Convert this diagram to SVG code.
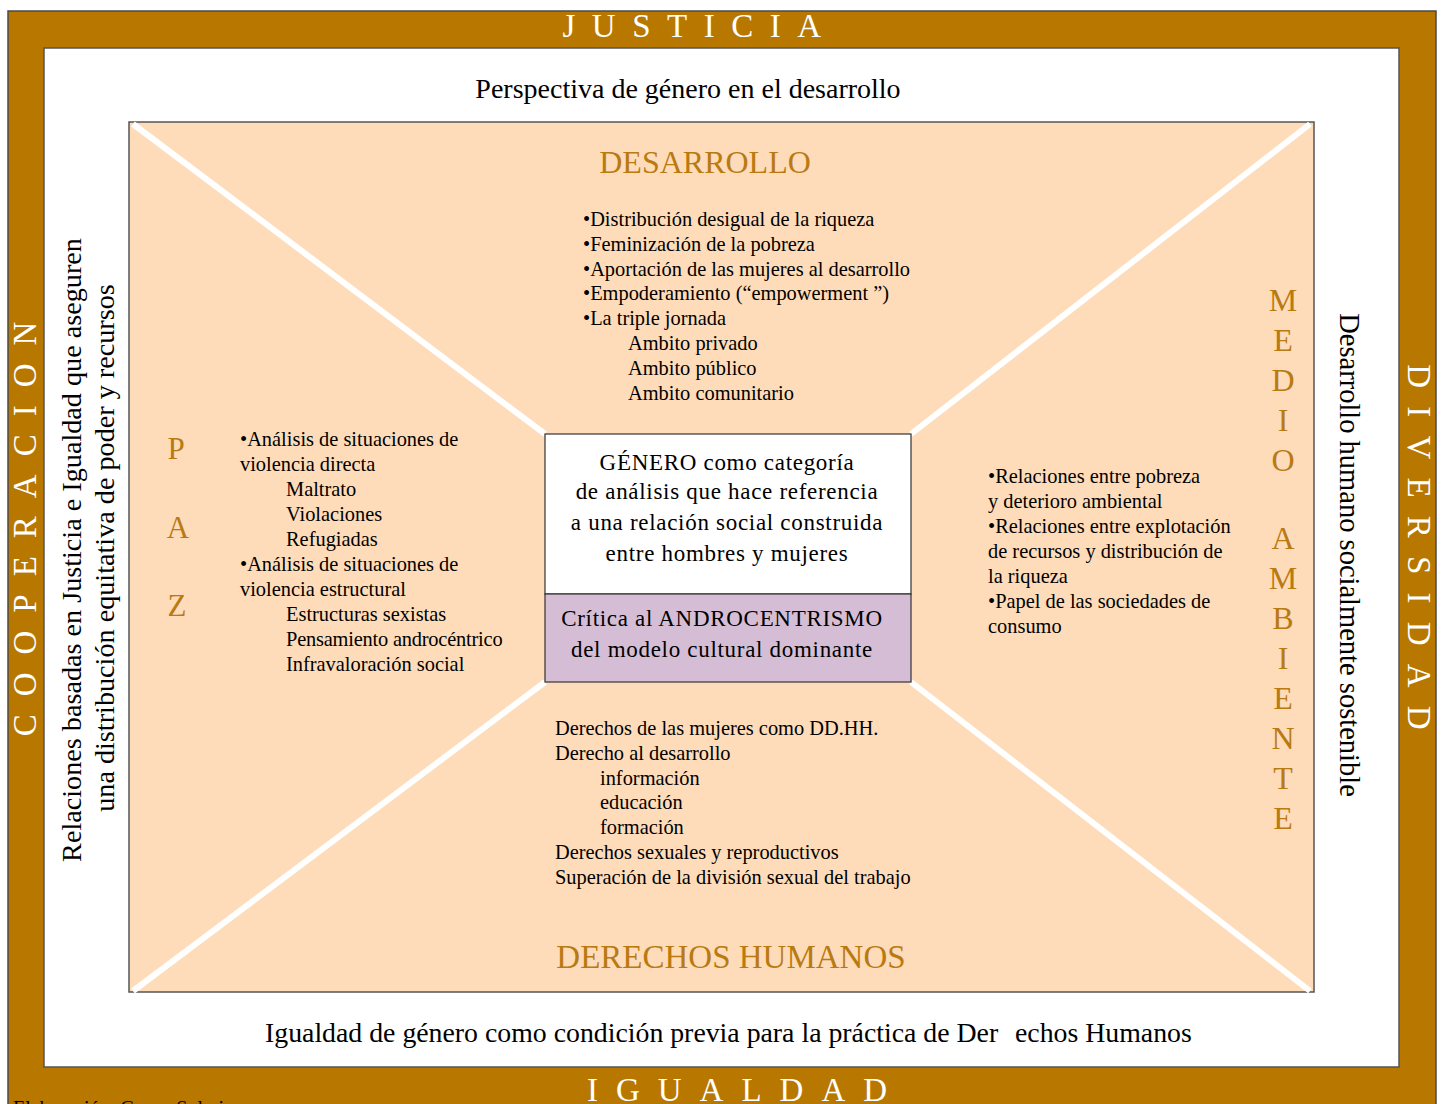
<svg xmlns="http://www.w3.org/2000/svg" width="1449" height="1104" viewBox="0 0 1449 1104">
<style>
.t{font-family:"Liberation Serif","Times New Roman",serif;fill:#000}
.w{font-family:"Liberation Serif","Times New Roman",serif;fill:#fff;font-size:33px}
.g{font-family:"Liberation Serif","Times New Roman",serif;fill:#B97A12}
.b{font-size:20.4px}
.diag{stroke:#fff;stroke-width:6}
</style>
<rect width="1449" height="1104" fill="#fff"/>
<g id="frame">
<rect x="8" y="11" width="1428" height="1110" fill="#B87800" stroke="#4a4a4a" stroke-width="1.5"/>
<rect x="44" y="48" width="1355" height="1019" fill="#fff" stroke="#555" stroke-width="1.5"/>
<text class="w" x="700" y="37" text-anchor="middle" letter-spacing="16.5">JUSTICIA</text>
<text class="w" x="746" y="1101" text-anchor="middle" letter-spacing="18">IGUALDAD</text>
<text class="w" transform="translate(36,520) rotate(-90)" text-anchor="middle" letter-spacing="18">COOPERACION</text>
<text class="w" transform="translate(1408,556) rotate(90)" text-anchor="middle" letter-spacing="18.2">DIVERSIDAD</text>
<text class="t" x="13" y="1115" font-size="20">Elaboración: Grupo Solaris</text>
</g>
<g id="outer-labels">
<text class="t" x="688" y="98" font-size="28" text-anchor="middle">Perspectiva de género en el desarrollo</text>
<text class="t" x="265" y="1042" font-size="27.8">Igualdad de género como condición previa para la práctica de Der</text>
<text class="t" x="1015" y="1042" font-size="27.8">echos Humanos</text>
<text class="t" font-size="28.2" transform="translate(81,550) rotate(-90)" text-anchor="middle">Relaciones basadas en Justicia e Igualdad que aseguren</text>
<text class="t" font-size="28.2" transform="translate(114,548) rotate(-90)" text-anchor="middle">una distribución equitativa de poder y recursos</text>
<text class="t" font-size="28.5" transform="translate(1340,555) rotate(90)" text-anchor="middle">Desarrollo humano socialmente sostenible</text>
</g>
<g id="panel">
<rect x="129" y="122" width="1185" height="870" fill="#FEDCB9" stroke="#555" stroke-width="1.5"/>
</g>
<g id="connectors">
<line class="diag" x1="133" y1="124" x2="545" y2="434"/>
<line class="diag" x1="1310" y1="124" x2="911" y2="434"/>
<line class="diag" x1="133" y1="991" x2="545" y2="682"/>
<line class="diag" x1="1310" y1="991" x2="911" y2="682"/>
</g>
<g id="desarrollo">
<text class="g" x="705" y="173" font-size="32" text-anchor="middle">DESARROLLO</text>
<text class="t b" x="583" y="226">•Distribución desigual de la riqueza</text>
<text class="t b" x="583" y="251">•Feminización de la pobreza</text>
<text class="t b" x="583" y="276">•Aportación de las mujeres al desarrollo</text>
<text class="t b" x="583" y="300">•Empoderamiento (“empowerment ”)</text>
<text class="t b" x="583" y="325">•La triple jornada</text>
<text class="t b" x="628" y="350">Ambito privado</text>
<text class="t b" x="628" y="375">Ambito público</text>
<text class="t b" x="628" y="400">Ambito comunitario</text>
</g>
<g id="paz">
<text class="g" x="176" y="459" font-size="31" text-anchor="middle">P</text>
<text class="g" x="178" y="538" font-size="31" text-anchor="middle">A</text>
<text class="g" x="177" y="616" font-size="31" text-anchor="middle">Z</text>
<text class="t b" x="240" y="446">•Análisis de situaciones de</text>
<text class="t b" x="240" y="471">violencia directa</text>
<text class="t b" x="286" y="496">Maltrato</text>
<text class="t b" x="286" y="521">Violaciones</text>
<text class="t b" x="286" y="546">Refugiadas</text>
<text class="t b" x="240" y="571">•Análisis de situaciones de</text>
<text class="t b" x="240" y="596">violencia estructural</text>
<text class="t b" x="286" y="621">Estructuras sexistas</text>
<text class="t b" x="286" y="646" letter-spacing="-0.2">Pensamiento androcéntrico</text>
<text class="t b" x="286" y="671">Infravaloración social</text>
</g>
<g id="medio-ambiente">
<g class="g" font-size="32" text-anchor="middle">
<text x="1283" y="311">M</text>
<text x="1283" y="351">E</text>
<text x="1283" y="391">D</text>
<text x="1283" y="431">I</text>
<text x="1283" y="471">O</text>
<text x="1283" y="549">A</text>
<text x="1283" y="589">M</text>
<text x="1283" y="629">B</text>
<text x="1283" y="669">I</text>
<text x="1283" y="709">E</text>
<text x="1283" y="749">N</text>
<text x="1283" y="789">T</text>
<text x="1283" y="829">E</text>
</g>
<text class="t b" x="988" y="483">•Relaciones entre pobreza</text>
<text class="t b" x="988" y="508">y deterioro ambiental</text>
<text class="t b" x="988" y="533">•Relaciones entre explotación</text>
<text class="t b" x="988" y="558">de recursos y distribución de</text>
<text class="t b" x="988" y="583">la riqueza</text>
<text class="t b" x="988" y="608">•Papel de las sociedades de</text>
<text class="t b" x="988" y="633">consumo</text>
</g>
<g id="derechos-humanos">
<text class="t b" x="555" y="735">Derechos de las mujeres como DD.HH.</text>
<text class="t b" x="555" y="760">Derecho al desarrollo</text>
<text class="t b" x="600" y="785">información</text>
<text class="t b" x="600" y="809">educación</text>
<text class="t b" x="600" y="834">formación</text>
<text class="t b" x="555" y="859">Derechos sexuales y reproductivos</text>
<text class="t b" x="555" y="884">Superación de la división sexual del trabajo</text>
<text class="g" x="731" y="968" font-size="33" text-anchor="middle">DERECHOS HUMANOS</text>
</g>
<g id="genero">
<rect x="545" y="434" width="366" height="160" fill="#fff" stroke="#333" stroke-width="1.2"/>
<rect x="545" y="594" width="366" height="88" fill="#D5BED5" stroke="#333" stroke-width="1.2"/>
<g class="t" font-size="23" text-anchor="middle" letter-spacing="0.7">
<text x="727" y="470">GÉNERO como categoría</text>
<text x="727" y="499">de análisis que hace referencia</text>
<text x="727" y="530">a una relación social construida</text>
<text x="727" y="561">entre hombres y mujeres</text>
<text x="722" y="626">Crítica al ANDROCENTRISMO</text>
<text x="722" y="657">del modelo cultural dominante</text>
</g>
</g>
</svg>
